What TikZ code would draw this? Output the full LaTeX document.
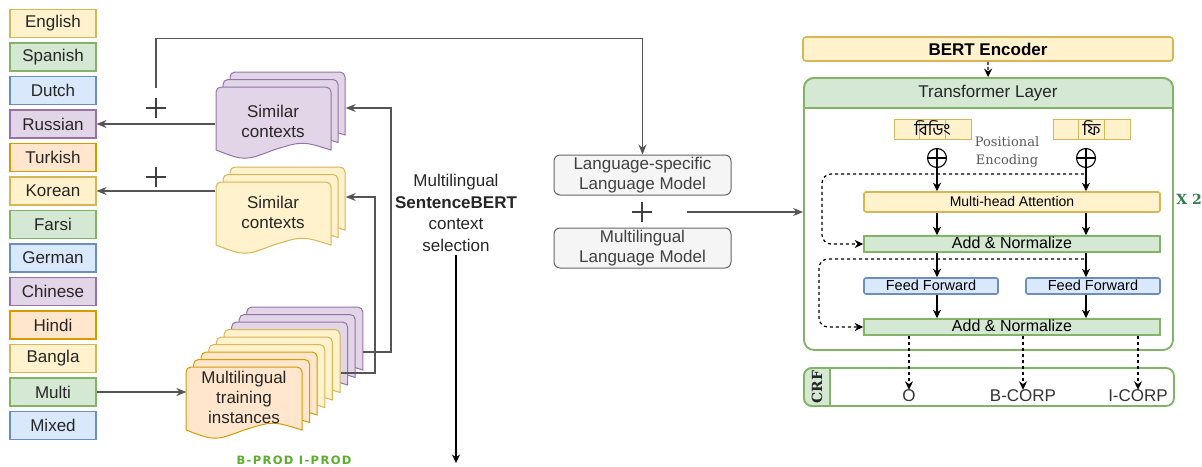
\documentclass[tikz,border=0pt]{standalone}
\usepackage{fontspec}
\setmainfont{Liberation Sans}
\newfontfamily\bnfont[Script=Bengali]{Hind Siliguri}
\newfontfamily\peserif{DejaVu Serif}
\newfontfamily\prodfont[LetterSpace=12]{DejaVu Sans}
\usetikzlibrary{arrows.meta, positioning}

\definecolor{yfill}{HTML}{FFF2CC}
\definecolor{ydraw}{HTML}{D6B656}
\definecolor{gfill}{HTML}{D5E8D4}
\definecolor{gdraw}{HTML}{82B366}
\definecolor{bfill}{HTML}{DAE8FC}
\definecolor{bdraw}{HTML}{6C8EBF}
\definecolor{pfill}{HTML}{E1D5E7}
\definecolor{pdraw}{HTML}{9673A6}
\definecolor{ofill}{HTML}{FFE6CC}
\definecolor{odraw}{HTML}{D79B00}
\definecolor{lfill}{HTML}{F5F5F5}
\definecolor{ldraw}{HTML}{666666}
\definecolor{linkgray}{HTML}{555555}
\definecolor{xgreen}{HTML}{2E7D4F}
\definecolor{prodgreen}{HTML}{5AAE2A}

% one page of a stacked document, top-left corner at (#2,#3), size #4 x #5
\newcommand\docpage[5][]{%
  \draw[line width=1pt,#1] ({#2},{#3+#5-8}) [rounded corners=5pt] -- ({#2},{#3}) -- ({#2+#4},{#3}) [sharp corners]
    -- ({#2+#4},{#3+#5-8})
    .. controls ({#2+0.75*#4},{#3+#5-17}) .. ({#2+0.5*#4},{#3+#5-8})
    .. controls ({#2+0.25*#4},{#3+#5+3}) .. cycle;}

\begin{document}
\begin{tikzpicture}[
        x=1pt, y=-1pt,
        langbox/.style={rectangle, line width=1.1pt, minimum width=86pt, minimum height=28pt, inner sep=0pt, font=\fontsize{17}{20}\selectfont, text=black!85},
        yel/.style={fill=yfill, draw=ydraw},
        grn/.style={fill=gfill, draw=gdraw},
        blu/.style={fill=bfill, draw=bdraw},
        pur/.style={fill=pfill, draw=pdraw},
        org/.style={fill=ofill, draw=odraw},
        docarea/.style={minimum width=115pt, minimum height=63pt, inner sep=0pt, align=center, font=\fontsize{17}{20}\selectfont, text=black!85},
        lmbox/.style={rectangle, rounded corners=6pt, draw=ldraw, fill=lfill, line width=1pt, minimum width=177pt, minimum height=40pt, inner sep=0pt, align=center, text=black!75, font=\fontsize{17}{20}\selectfont},
        plusmark/.style={minimum size=20pt, inner sep=0pt, path picture={\draw[line width=1.8pt, black!75] (path picture bounding box.north) -- (path picture bounding box.south) (path picture bounding box.west) -- (path picture bounding box.east);}},
        link/.style={draw=linkgray, line width=1.2pt, -{Stealth[length=10pt, width=8pt]}},
        blk/.style={black, line width=1.2pt, -{Stealth[length=8.5pt, width=8pt]}},
        resid/.style={blk, dash pattern=on 3pt off 3pt, rounded corners=9pt},
        widebox/.style={rectangle, line width=1.6pt, minimum width=296pt, inner sep=0pt, text height=11pt, text depth=3pt},
        tokbox/.style={rectangle, draw=ydraw, fill=yfill, line width=1pt, minimum width=77pt, minimum height=20pt, inner sep=0pt, text height=12pt, text depth=0pt, font=\bnfont\fontsize{17}{17}\selectfont,
            path picture={\draw[ydraw, line width=1pt] ([xshift=-12.83pt]path picture bounding box.north) -- ([xshift=-12.83pt]path picture bounding box.south) ([xshift=12.83pt]path picture bounding box.north) -- ([xshift=12.83pt]path picture bounding box.south);}},
        addsym/.style={circle, draw, line width=1.1pt, minimum size=19pt, inner sep=0pt, path picture={\draw[line width=1.1pt] (path picture bounding box.north) -- (path picture bounding box.south) (path picture bounding box.west) -- (path picture bounding box.east);}},
        tag/.style={font=\fontsize{17}{20}\selectfont, inner sep=0pt, text=black!80},
    ]
    \useasboundingbox (0,0) rectangle (1202,466);

    % languages
    \foreach \txt/\sty [count=\i] in {English/yel, Spanish/grn, Dutch/blu, Russian/pur, Turkish/org, Korean/yel, Farsi/grn, German/blu, Chinese/pur, Hindi/org, Bangla/yel, Multi/grn, Mixed/blu}
        \node[langbox, \sty] (lang\i) at (53, {23.5+33.5*(\i-1)}) {\txt};

    % document stacks
    \foreach \k in {2,1,0}
        \docpage[fill=pfill, draw=pdraw]{216+7*\k}{87-7.5*\k}{115}{71};
    \foreach \k in {2,1,0}
        \docpage[fill=yfill, draw=ydraw]{216+7*\k}{182-7.5*\k}{115}{71};
    \foreach \k/\fc/\dc in {8/pfill/pdraw, 7/pfill/pdraw, 6/pfill/pdraw, 5/yfill/ydraw, 4/yfill/ydraw, 3/yfill/ydraw, 2/ofill/odraw, 1/ofill/odraw, 0/ofill/odraw}
        \docpage[fill=\fc, draw=\dc]{186+7.6*\k}{367-7.5*\k}{116}{71};

    \node[docarea] (simP) at (273,121) {Similar\\contexts};
    \node[docarea] (simY) at (273,212) {Similar\\contexts};
    \node[docarea] (simPback) at (288,108) {};
    \node[docarea] (simYback) at (288,197) {};
    \node[docarea] (train) at (244,397) {Multilingual\\training\\instances};
    \coordinate (outP) at (363,352);
    \coordinate (outY) at (341,373);

    \node[plusmark] (plusP) at (156,108) {};
    \node[plusmark] (plusY) at (156,177) {};

    \draw[link] (simP.west |- lang4) -- (lang4);
    \draw[link] (simY.west |- lang6) -- (lang6);
    \draw[link] (lang12) -- (lang12 -| train.west);
    \draw[link] (outP) -- ++(28,0) |- (simPback.east);
    \draw[link] (outY) -- ++(34,0) |- (simYback.east);

    % sentence bert selection
    \node[align=center, font=\fontsize{17}{21.5}\selectfont, text=black!85] (sbert) at (456,213) {Multilingual\\\textbf{SentenceBERT}\\context\\selection};
    \coordinate (sbertEnd) at (456,463);
    \draw[blk] (sbert.south) -- (sbertEnd);

    % language models
    \node[lmbox] (lsm) at (642.5,175) {Language-specific\\Language Model};
    \node[lmbox] (mlm) at (642.5,248) {Multilingual\\Language Model};
    \node[plusmark] (lmplus) at (642,212) {};
    \draw[link] ([yshift=10pt]plusP.north) -- ++(0,-49) -| (lsm.north);

    % encoder
    \node[rectangle, rounded corners=3pt, fill=yfill, draw=ydraw, line width=1.6pt, minimum width=370pt, minimum height=24pt, inner sep=0pt, font=\bfseries\fontsize{17}{20}\selectfont] (bert) at (988,49) {BERT Encoder};
    \node[rectangle, rounded corners=10pt, draw=gdraw, line width=1.8pt, minimum width=369pt, minimum height=272pt] (tlayer) at (988.5,214) {};
    \draw[draw=gdraw, fill=gfill, line width=1.8pt] (804,108) [rounded corners=10pt] -- (804,78) -- (1173,78) [sharp corners] -- (1173,108) -- cycle;
    \node[font=\fontsize{17}{20}\selectfont, text=black!85] (thead) at (988,93) {Transformer Layer};
    \draw[blk, dash pattern=on 3pt off 2pt] (bert) -- (tlayer);
    \draw[link] ([xshift=35pt]lmplus.east) -- (lmplus -| tlayer.west);

    \node[tokbox] (tok1) at (932.5,129) {বিডিং};
    \node[tokbox] (tok2) at (1091.5,129) {ফি};
    \node[align=center, font=\peserif\fontsize{13}{18}\selectfont, text=black!65] (posenc) at (1007,152) {Positional\\Encoding};
    \node[addsym] (pe1) at (937,158) {};
    \node[addsym] (pe2) at (1086,158) {};

    \node[widebox, fill=yfill, draw=ydraw, minimum height=20pt, rounded corners=2pt, font=\fontsize{14}{16}\selectfont] (mha) at (1012,202) {Multi-head Attention};
    \node[widebox, fill=gfill, draw=gdraw, minimum height=16pt, font=\fontsize{16}{18}\selectfont] (an1) at (1012,244) {Add \& Normalize};
    \node[widebox, fill=bfill, draw=bdraw, minimum width=134pt, minimum height=16pt, rounded corners=2pt, font=\fontsize{14.5}{16}\selectfont] (ff1) at (931,286) {Feed Forward};
    \node[widebox, fill=bfill, draw=bdraw, minimum width=134pt, minimum height=16pt, rounded corners=2pt, font=\fontsize{14.5}{16}\selectfont] (ff2) at (1093,286) {Feed Forward};
    \node[widebox, fill=gfill, draw=gdraw, minimum height=16pt, font=\fontsize{16}{18}\selectfont] (an2) at (1012,327) {Add \& Normalize};

    \draw[blk] (pe1) -- (pe1 |- mha.north);
    \draw[blk] (pe2) -- (pe2 |- mha.north);
    \draw[blk] (pe1 |- mha.south) -- (pe1 |- an1.north);
    \draw[blk] (pe2 |- mha.south) -- (pe2 |- an1.north);
    \draw[blk] (pe1 |- an1.south) -- (pe1 |- ff1.north);
    \draw[blk] (pe2 |- an1.south) -- (pe2 |- ff2.north);
    \draw[blk] (pe1 |- ff1.south) -- (pe1 |- an2.north);
    \draw[blk] (pe2 |- ff2.south) -- (pe2 |- an2.north);

    \coordinate (res1) at (1084,174);
    \coordinate (res2) at (1084,259);
    \draw[resid] (res1) -- ++(-262,0) |- (an1.west);
    \draw[resid] (res2) -- ++(-265,0) |- (an2.west);

    \node[font=\peserif\bfseries\fontsize{14}{14}\selectfont, text=xgreen] (reps) at (1189,199) {X 2};

    % crf
    \node[rectangle, rounded corners=8pt, draw=gdraw, line width=1.8pt, minimum width=370pt, minimum height=38pt] (crf) at (989,387) {};
    \draw[draw=gdraw, fill=gfill, line width=1.8pt] (830,368) -- (830,406) [rounded corners=8pt] -- (804,406) -- (804,368) [sharp corners] -- cycle;
    \node[rotate=90, font=\peserif\bfseries\fontsize{14}{14}\selectfont, text=black!85] (crflbl) at (817,387) {CRF};
    \node[tag] (tagO) at (909,396) {O};
    \node[tag] (tagB) at (1023,396) {B-CORP};
    \node[tag] (tagI) at (1138,396) {I-CORP};
    \foreach \t in {tagO, tagB, tagI}
        \draw[blk, dash pattern=on 3pt off 3pt] (\t |- an2.south) -- (\t.north);

    \node[font=\prodfont\bfseries\fontsize{11.5}{13}\selectfont, text=prodgreen] (prodtags) at (294,460) {B-PROD I-PROD};
\end{tikzpicture}
\end{document}
